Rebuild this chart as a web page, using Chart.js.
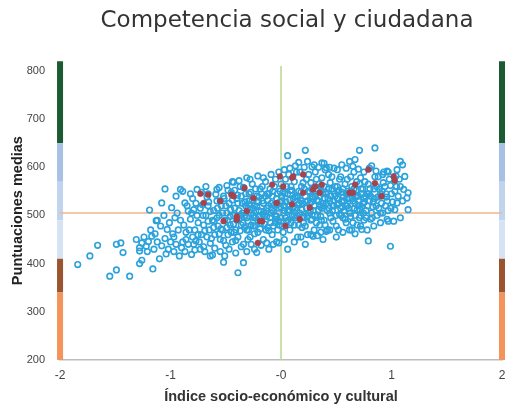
<!DOCTYPE html>
<html>
<head>
<meta charset="utf-8">
<script src="https://cdn.jsdelivr.net/npm/chart.js@4.4.1/dist/chart.umd.min.js"></script>
<style>
html,body{margin:0;padding:0;background:#fff;}
#wrap{width:507px;height:410px;position:relative;}
</style>
</head>
<body>
<div id="wrap"><canvas id="c" width="507" height="410"></canvas></div>
<script>
// ---- data ----
const chartTitle = 'Competencia social y ciudadana';
const xTitle = 'Índice socio-económico y cultural';
const yTitle = 'Puntuaciones medias';
const xTicks = [-2, -1, 0, 1, 2];
const xTickLabels = ['-2', '-1', '-0', '1', '2'];
const yTicks = [200, 300, 400, 500, 600, 700, 800];

const bluePoints = [
[-1.84,398],[-1.73,416],[-1.66,438],[-1.55,374],[-1.49,387],[-1.49,440],[-1.45,443],[-1.43,423],[-1.37,374],[-1.31,450],[-1.28,433],[-1.26,443],[-1.28,426],[-1.26,407],[-1.28,400],[-1.16,389],[-1.17,457],[-1.19,511],[-1.13,489],[-1.10,410],[-1.08,526],[-1.05,555],[-1.12,490],[-1.03,471],[-0.99,516],[-0.96,495],[-0.91,554],[-0.89,550],[-0.92,416],[-0.87,526],[-0.84,509],[-0.86,450],[-0.81,419],[-0.76,554],[-0.64,416],[-0.58,554],[-0.51,416],[-0.52,403],[-0.43,569],[-0.39,381],[-0.34,402],[-0.31,578],[-0.22,423],[-0.13,443],[-0.07,440],
[-1.18,470],[-1.14,462],[-1.09,478],[-1.06,500],[-1.01,485],[-0.97,455],[-0.94,505],[-0.91,490],[-0.89,445],[-0.85,520],[-0.83,470],[-0.81,505],[-0.79,440],[-0.77,525],[-0.75,460],[-1.24,455],[-1.21,425],[-1.04,420],[-0.97,425],[-0.87,425],
[-1.22,436],[-1.20,446],[-1.15,430],[-1.12,445],[-1.08,437],[-1.05,452],[-1.02,430],[-1.00,445],[-0.98,462],[-0.95,440],[-0.93,470],[-0.90,433],[-0.88,480],[-0.86,465],[-0.84,440],[-0.82,492],[-0.80,455],[-0.78,428],[-0.78,470],[-0.76,500],[-0.74,445],[-0.73,515],[-0.72,460],[-0.70,480],[-0.70,435],[-0.68,500],[-0.67,455],[-0.66,520],[-0.65,470],[-0.64,442],[-0.62,490],[-0.61,510],[-0.60,460],[-0.60,432],[-0.58,530],[-0.57,478],[-0.56,500],[-0.55,450],[-0.54,520],[-0.53,470],[-0.52,540],[-0.51,490],[-0.50,438],[-0.49,505],[-0.48,460],[-0.47,525],[-0.46,480],[-0.45,548],[-0.44,445],[-0.43,500],[-0.42,515],[-0.41,470],[-0.40,535],[-0.40,490],[-0.39,455],[-0.38,510],[-0.37,560],[-0.36,480],[-0.35,525],[-0.34,440],[-0.33,500],[-0.32,545],[-0.31,470],[-0.30,515],[-0.30,488],[-0.29,530],[-0.28,455],[-0.27,505],[-0.26,565],[-0.25,478],[-0.24,520],[-0.23,495],[-0.22,540],[-0.21,465],[-0.20,510],[-0.19,555],[-0.18,485],[-0.17,530],[-0.16,450],[-0.15,500],[-0.14,570],[-0.13,515],[-0.12,475],[-0.11,545],[-0.10,495],[-0.09,525],[-0.08,460],[-0.07,508],[-0.06,560],[-0.05,485],[-0.04,535],[-0.03,470],[-0.02,515],[-0.01,550],[0.00,495],[0.01,530],[0.02,465],[0.03,510],[0.04,575],[0.05,488],[0.06,545],[0.07,520],[0.08,470],[0.09,560],[0.10,500],[0.11,535],[0.12,480],[0.13,515],[0.14,590],[0.15,455],[0.16,550],[0.17,505],[0.18,530],[0.19,475],[0.20,568],[0.21,495],[0.22,540],[0.23,515],[0.24,460],[0.25,585],[0.26,525],[0.27,490],[0.28,555],[0.29,510],[0.30,470],[0.31,540],[0.32,575],[0.33,500],[0.34,530],[0.35,480],[0.36,560],[0.37,515],[0.38,545],[0.39,490],[0.40,595],[0.41,525],[0.42,470],[0.43,555],[0.44,505],[0.45,540],[0.46,580],[0.47,488],[0.48,520],[0.49,560],[0.50,500],[0.51,535],[0.52,470],[0.53,575],[0.54,515],[0.55,548],[0.56,495],[0.57,530],[0.58,565],[0.59,485],[0.60,520],[0.61,545],[0.62,505],[0.63,580],[0.64,470],[0.65,530],[0.66,555],[0.67,500],[0.68,540],[0.69,480],[0.70,520],[0.71,565],[0.72,500],[0.73,545],[0.74,525],[0.75,490],[0.76,570],[0.77,510],[0.78,545],[0.80,530],[0.82,505],[0.84,555],[0.86,520],[0.88,580],[0.90,545],[0.92,505],[0.94,560],[0.96,530],[0.98,575],[1.00,545],
[-0.79,512],[-0.77,447],[-0.75,485],[-0.73,430],[-0.71,522],[-0.69,468],[-0.67,538],[-0.66,488],[-0.64,508],[-0.63,452],[-0.61,475],[-0.59,544],[-0.58,495],[-0.56,462],[-0.55,530],[-0.53,505],[-0.52,448],[-0.50,520],[-0.49,475],[-0.48,552],[-0.46,498],[-0.45,465],[-0.44,532],[-0.43,482],[-0.42,552],[-0.41,448],[-0.39,525],[-0.38,492],[-0.37,468],[-0.36,540],[-0.35,505],[-0.34,558],[-0.33,475],[-0.32,520],[-0.31,495],[-0.30,450],[-0.29,545],[-0.28,512],[-0.27,480],[-0.26,532],[-0.25,500],[-0.24,462],[-0.23,555],[-0.22,518],[-0.21,490],[-0.20,538],[-0.19,472],[-0.18,508],[-0.17,560],[-0.16,525],[-0.15,482],[-0.14,540],[-0.13,498],[-0.12,532],[-0.11,468],[-0.10,555],[-0.09,505],[-0.08,540],[-0.07,478],[-0.06,522],[-0.05,575],[-0.04,498],[-0.03,545],[-0.02,488],[-0.01,528],[0.00,565],[0.01,478],[0.02,548],[0.03,520],[0.04,495],[0.05,560],[0.06,508],[0.07,585],[0.08,532],[0.09,485],[0.10,552],[0.11,515],[0.12,570],[0.13,495],[0.14,540],[0.15,522],[0.16,480],[0.17,590],[0.18,548],[0.19,512],[0.20,498],[0.21,555],[0.22,478],[0.23,575],[0.24,530],[0.25,505],[0.26,548],[0.27,568],[0.28,492],[0.29,535],[0.30,520],[0.31,590],[0.32,485],[0.33,555],[0.34,512],[0.35,540],[0.36,498],[0.37,578],[0.38,525],[0.39,560],[0.40,480],[0.41,545],[0.42,510],[0.43,585],[0.44,530],[0.45,495],[0.46,555],[0.47,520],[0.48,598],[0.49,540],[0.50,478],[0.51,560],[0.52,525],[0.53,502],[0.54,580],[0.55,530],[0.56,555],[0.57,510],[0.58,492],[0.59,545],[0.60,575],[0.61,515],[0.62,535],[0.63,498],[0.64,560],[0.65,485],[0.66,590],[0.67,525],[0.68,552],[0.69,512],[0.70,540],[0.71,495],[0.72,578],[0.73,518],[0.74,555],[0.75,535],[0.77,495],[0.79,565],[0.81,540],[0.83,518],[0.85,580],[0.87,500],[0.89,555],[0.91,525],[0.93,590],[0.95,545],[0.97,510],[0.99,562],[1.01,528],[1.03,550],[1.06,540],[1.08,560],[1.10,530],
[-0.705,500],[-0.655,528],[-0.605,488],[-0.575,515],[-0.545,472],[-0.515,535],[-0.485,490],[-0.455,512],[-0.425,465],[-0.395,542],[-0.365,500],[-0.345,485],[-0.325,528],[-0.295,470],[-0.275,548],[-0.255,515],[-0.235,478],[-0.215,530],[-0.195,498],[-0.175,545],[-0.155,508],[-0.135,470],[-0.115,520],[-0.095,485],[-0.075,550],[-0.055,500],[-0.035,522],[-0.015,480],[0.005,540],[0.025,505],[0.045,528],[0.065,490],[0.085,552],[0.105,518],[0.125,538],[0.145,500],[0.165,525],[0.185,560],[0.205,485],[0.225,528],[0.245,550],[0.265,510],[0.285,540],[0.305,500],[0.325,532],[0.345,565],[0.365,490],[0.385,520],[0.405,548],[0.425,535],[0.445,568],[0.465,510],[0.485,545],[0.505,522],[0.525,552],[0.545,500],[0.565,538],[0.585,520],[0.605,550],[0.625,505],[0.645,535],[0.665,515],[0.685,570],[0.705,530],[0.725,555],[0.745,505],[0.765,540],[0.785,520],[0.805,555],[0.825,495],[0.845,535],[0.865,560],[0.885,515],[0.905,540],[0.925,568],[0.945,520],
[-0.69,425],[-0.62,418],[-0.55,425],[-0.47,430],[-0.41,422],[-0.36,435],[-0.31,425],[-0.27,440],[-0.24,430],[-0.18,438],[-0.11,430],[-0.04,445],[0.03,450],[0.06,430],[0.12,445],[0.18,455],[0.22,440],[0.27,460],[0.33,458],[0.36,465],[0.44,470],[0.50,455],[0.56,465],[0.62,470],[0.67,462],[0.72,478],[0.78,470],[0.84,478],[0.90,485],[0.96,492],[1.02,488],[1.08,495],
[-0.66,545],[-0.56,558],[-0.49,562],[-0.44,570],[-0.38,572],[-0.28,575],[-0.21,582],[-0.16,578],[-0.09,585],[-0.02,590],[0.03,595],[0.08,598],[0.13,603],[0.16,610],[0.21,600],[0.24,612],[0.30,605],[0.34,600],[0.39,608],[0.44,600],[0.51,595],[0.55,605],[0.59,598],[0.65,602],[0.70,596],[0.75,590],[0.80,598],[0.86,592],[0.92,585],[0.97,590],[1.04,582],[1.07,575],
[0.22,635],[0.06,624],[0.71,635],[0.85,640],[0.62,612],[0.67,616],[0.37,609],[0.28,601],[0.41,599],[1.08,612],[1.10,605],[1.05,595],[0.82,603],[0.96,592],[1.12,581],[1.15,547],[1.11,554],[1.14,536],[1.15,512],[1.05,526],[1.03,512],[0.97,488],[0.99,436],[0.79,447],[0.73,471],[0.81,492],[0.90,505],[0.38,450],[0.41,467],[0.29,457],[-0.02,443],
[-0.95,540],[-0.82,545],[-0.80,535],[-0.72,548],[-0.68,560],
[-0.285,522],[-0.245,495],[-0.205,528],[-0.165,502],[-0.125,545],[-0.085,512],[-0.045,492],[-0.005,518],[0.035,545],[0.075,512],[0.115,498],[0.155,538],[0.195,525],[0.235,498],[0.275,528],[0.315,555],[0.355,518],[0.395,535],[0.435,515],[0.475,532],[0.515,548],[0.555,518],[0.595,535],[0.635,550],[0.675,538],[0.715,512],[0.755,528],[0.795,545],[0.835,528],[0.875,538],[0.915,550],[0.955,538],[0.995,515],[1.045,560]
];

const redPoints = [
[-0.73,545],[-0.66,543],[-0.70,526],[-0.55,530],[-0.52,488],[-0.45,543],[-0.40,498],[-0.43,540],[-0.33,557],[-0.31,509],[-0.40,491],[-0.25,536],[-0.17,488],[-0.21,443],[-0.19,488],[-0.08,564],[-0.04,526],[-0.01,581],[0.04,478],[0.10,578],[0.11,581],[0.20,585],[0.10,523],[0.17,492],[0.29,554],[0.31,560],[0.35,547],[0.20,547],[0.26,516],[0.37,564],[0.62,547],[0.65,547],[0.67,564],[0.79,595],[0.85,567],[0.91,540],[1.02,581],[1.03,572],[0.02,560]
];

const refScore = 505;
const refIndex = 0;
const refIndexTop = 810;
// performance levels on the side bars
const levelFrom = [200, 340, 410, 490, 570, 650];
const levelTo   = [340, 410, 490, 570, 650, 820];
const levelColors = ['#f4935a', '#9a5530', '#d6e3f4', '#c1d4ee', '#a8c0e3', '#1c5a33'];

// ---- build datasets ----
const toXY = a => a.map(p => ({x: p[0], y: p[1]}));
const datasets = [];
datasets.push({
  type: 'scatter', label: 'centros', data: toXY(bluePoints),
  pointRadius: 2.8, pointBorderWidth: 1.6,
  borderColor: '#2ba2dc', backgroundColor: 'rgba(255,255,255,0)', order: 2
});
datasets.push({
  type: 'scatter', label: 'rojo', data: toXY(redPoints),
  pointRadius: 2.9, pointBorderWidth: 0.5,
  borderColor: '#9e3f4a', backgroundColor: '#a6434f', order: 1
});
datasets.push({
  type: 'line', data: [{x: -2, y: refScore}, {x: 2, y: refScore}],
  borderColor: '#f2b48e', borderWidth: 1.6, pointRadius: 0, order: 5
});
datasets.push({
  type: 'line', data: [{x: refIndex, y: 200}, {x: refIndex, y: refIndexTop}],
  borderColor: '#bcd99a', borderWidth: 1.6, pointRadius: 0, order: 5, clip: false
});
levelFrom.forEach((f, i) => {
  datasets.push({
    type: 'line',
    data: [{x: -2, y: f}, {x: -2, y: levelTo[i]}, {x: -2, y: null}, {x: 2, y: f}, {x: 2, y: levelTo[i]}],
    borderColor: levelColors[i], borderWidth: 6, borderCapStyle: 'butt',
    pointRadius: 0, spanGaps: false, clip: false, order: 6
  });
});

// main title drawn slightly right of centre, as in the original
const mainTitlePlugin = {
  id: 'mainTitle',
  afterDraw(chart) {
    const ctx = chart.ctx;
    ctx.save();
    ctx.font = "23px 'DejaVu Sans', sans-serif";
    ctx.fillStyle = '#333';
    ctx.textAlign = 'center';
    ctx.textBaseline = 'alphabetic';
    ctx.fillText(chartTitle, 287, 27);
    ctx.restore();
  }
};

const sans = "'Liberation Sans', Arial, sans-serif";

new Chart(document.getElementById('c'), {
  type: 'scatter',
  data: { datasets },
  plugins: [mainTitlePlugin],
  options: {
    responsive: false,
    animation: false,
    events: [],
    layout: { autoPadding: false, padding: { left: 9.3, right: 5, top: 61.2, bottom: 4.3 } },
    plugins: {
      legend: { display: false },
      tooltip: { enabled: false },
      title: { display: false }
    },
    scales: {
      x: {
        type: 'linear', min: -2, max: 2,
        grid: { display: false, drawTicks: true, tickLength: 8.8, tickColor: 'rgba(0,0,0,0)' },
        border: { display: true, color: '#bdbdbd', width: 1.5 },
        afterBuildTicks: s => { s.ticks = xTicks.map(v => ({value: v})); },
        ticks: {
          color: '#444', padding: 0,
          font: { family: sans, size: 12 },
          callback: (v) => xTickLabels[xTicks.indexOf(v)]
        },
        title: {
          display: true, text: xTitle, color: '#333',
          font: { family: sans, size: 14.5, weight: 'bold' }, padding: { top: 5.1, bottom: 0 }
        }
      },
      y: {
        type: 'linear', min: 200, max: 820,
        grid: { display: false, drawTicks: true, tickLength: 15, tickColor: 'rgba(0,0,0,0)' },
        border: { display: false },
        afterBuildTicks: s => { s.ticks = yTicks.map(v => ({value: v})); },
        ticks: {
          color: '#444', padding: 0,
          font: { family: sans, size: 11 }
        },
        title: {
          display: true, text: yTitle, color: '#222',
          font: { family: sans, size: 14.5, weight: 'bold' }, padding: { top: 0, bottom: 0 }
        }
      }
    }
  }
});
</script>
</body>
</html>
